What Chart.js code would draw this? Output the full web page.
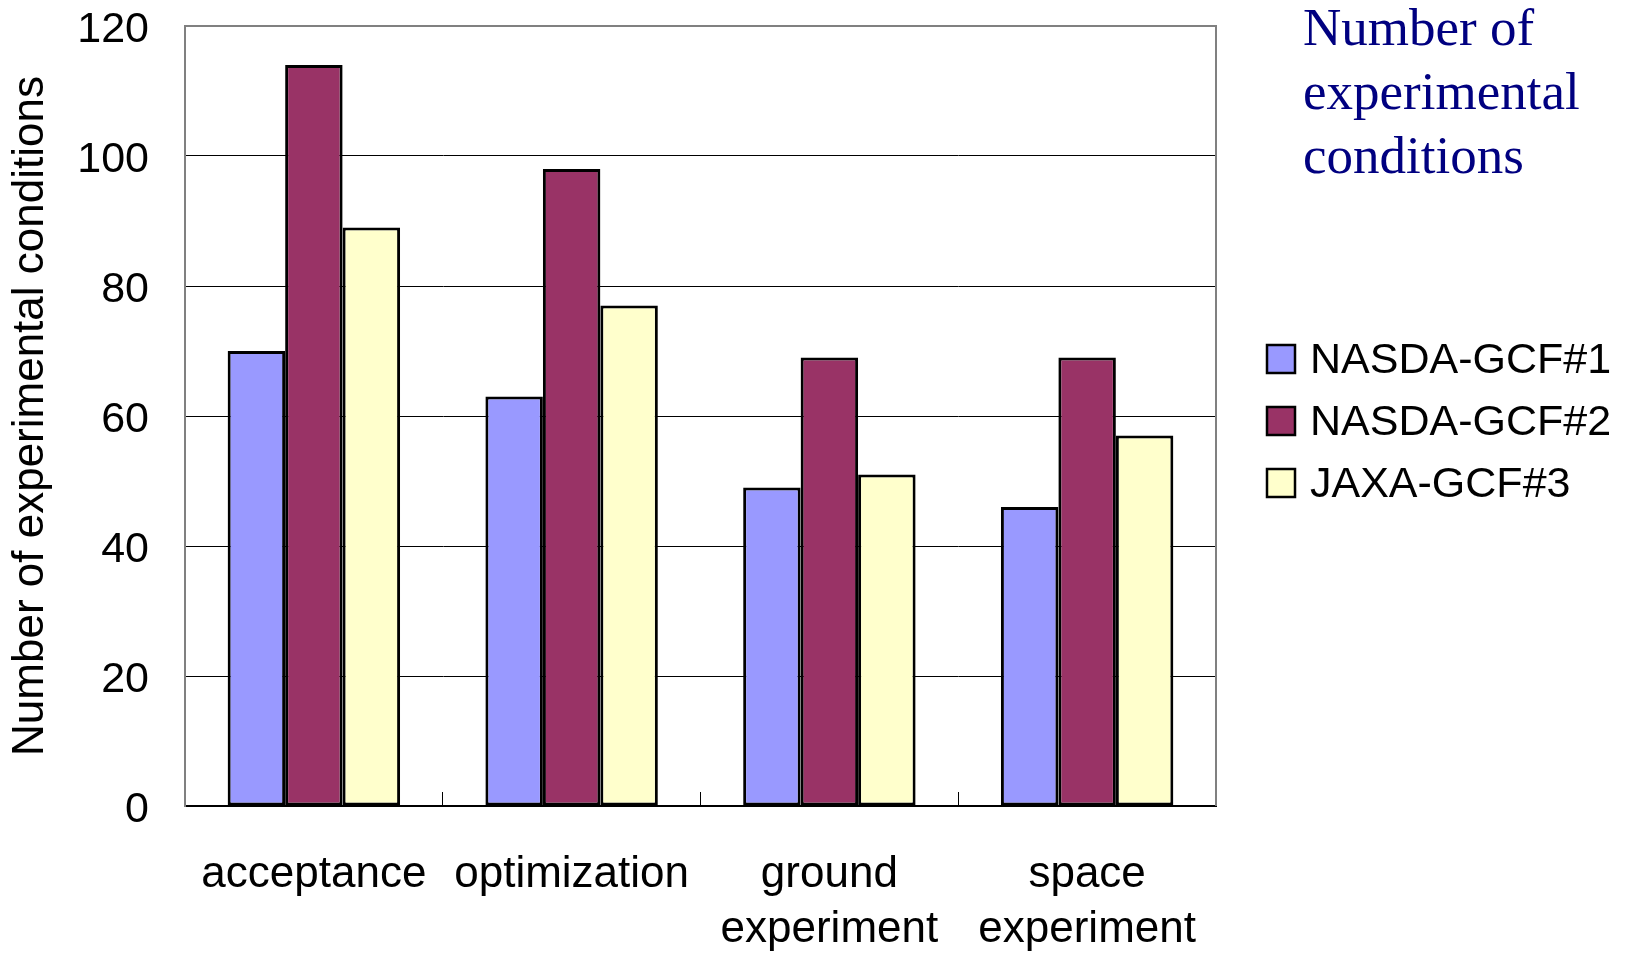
<!DOCTYPE html>
<html>
<head>
<meta charset="utf-8">
<title>Experimental conditions</title>
<script src="https://cdn.jsdelivr.net/npm/chart.js@4.4.1/dist/chart.umd.min.js"></script>
<style>
    html, body { margin: 0; padding: 0; background: #fff; }
    #wrap { width: 1633px; height: 955px; }
</style>
</head>
<body>
<div id="wrap"><canvas id="chart" width="1633" height="955"></canvas></div>
<script>
// DATA
const categories = ["acceptance", "optimization", ["ground", "experiment"], ["space", "experiment"]];
const seriesNames = ["NASDA-GCF#1", "NASDA-GCF#2", "JAXA-GCF#3"];
const gcf1Counts = [70, 63, 49, 46];
const gcf2Counts = [114, 98, 69, 69];
const gcf3Counts = [89, 77, 51, 57];
const seriesColors = ["#9999FF", "#993366", "#FFFFCC"];
const yMin = 0;
const yMax = 120;
const yStep = 20;
const yTitle = "Number of experimental conditions";
const sideTitle = ["Number of", "experimental", "conditions"];

const sansFont = "'Liberation Sans', Arial, sans-serif";
const serifFont = "'Liberation Serif', 'Times New Roman', serif";

// grey frame on top and right of the plot area
const plotFrame = {
    id: "plotFrame",
    beforeDatasetsDraw(chart) {
        const { ctx, chartArea: a } = chart;
        ctx.save();
        ctx.strokeStyle = "#808080";
        ctx.lineWidth = 2;
        ctx.beginPath();
        ctx.moveTo(a.left, a.top);
        ctx.lineTo(a.right, a.top);
        ctx.lineTo(a.right, a.bottom);
        ctx.stroke();
        ctx.restore();
    }
};

// title + series keys at the right side
const sideLegend = {
    id: "sideLegend",
    afterDraw(chart) {
        const { ctx, chartArea: a } = chart;
        ctx.save();

        ctx.fillStyle = "#000080";
        ctx.font = "53px " + serifFont;
        ctx.textAlign = "left";
        ctx.textBaseline = "alphabetic";
        sideTitle.forEach((line, i) => {
            ctx.fillText(line, a.right + 87, 45 + i * 64);
        });

        ctx.font = "43px " + sansFont;
        ctx.textBaseline = "middle";
        chart.data.datasets.forEach((ds, i) => {
            const cy = 359 + i * 62;
            const bx = a.right + 51;
            ctx.fillStyle = ds.backgroundColor;
            ctx.fillRect(bx, cy - 14, 28, 28);
            ctx.strokeStyle = "#000";
            ctx.lineWidth = 2.5;
            ctx.strokeRect(bx, cy - 14, 28, 28);
            ctx.fillStyle = "#000";
            ctx.fillText(ds.label, a.right + 94, cy + 2);
        });

        ctx.restore();
    }
};

const countSeries = [gcf1Counts, gcf2Counts, gcf3Counts];

new Chart(document.getElementById("chart"), {
    type: "bar",
    data: {
        labels: categories,
        datasets: countSeries.map((values, i) => ({
            label: seriesNames[i],
            data: values,
            backgroundColor: seriesColors[i],
            borderColor: "#000",
            borderWidth: 3,
            borderSkipped: false,
            barPercentage: 1,
            categoryPercentage: 0.669
        }))
    },
    options: {
        responsive: false,
        animation: false,
        layout: { padding: { top: 26, right: 417, left: 0, bottom: 0 } },
        plugins: {
            legend: { display: false },
            tooltip: { enabled: false }
        },
        scales: {
            x: {
                afterFit: s => { s.height = 149; },
                grid: {
                    display: true,
                    drawOnChartArea: false,
                    drawTicks: true,
                    tickLength: -14,
                    color: "#000",
                    lineWidth: 1
                },
                border: { display: true, color: "#000", width: 2 },
                ticks: {
                    color: "#000",
                    padding: 55,
                    maxRotation: 0,
                    autoSkip: false,
                    font: { family: sansFont, size: 44, lineHeight: 1.25 }
                }
            },
            y: {
                min: yMin,
                max: yMax,
                afterFit: s => { s.width = 185; },
                grid: {
                    drawTicks: true,
                    tickLength: 36,
                    tickColor: "rgba(0,0,0,0)",
                    color: c => (c.tick && c.tick.value === yMax ? "#808080" : "#000"),
                    lineWidth: c => (c.tick && c.tick.value === yMax ? 2 : 1)
                },
                border: { display: true, color: "#808080", width: 2 },
                ticks: {
                    stepSize: yStep,
                    color: "#000",
                    padding: 0,
                    labelOffset: 4,
                    font: { family: sansFont, size: 43, lineHeight: 1.0 }
                },
                title: {
                    display: true,
                    text: yTitle,
                    color: "#000",
                    padding: { top: 4, bottom: 0 },
                    font: { family: sansFont, size: 44, lineHeight: 1.2 }
                }
            }
        }
    },
    plugins: [plotFrame, sideLegend]
});
</script>
</body>
</html>
